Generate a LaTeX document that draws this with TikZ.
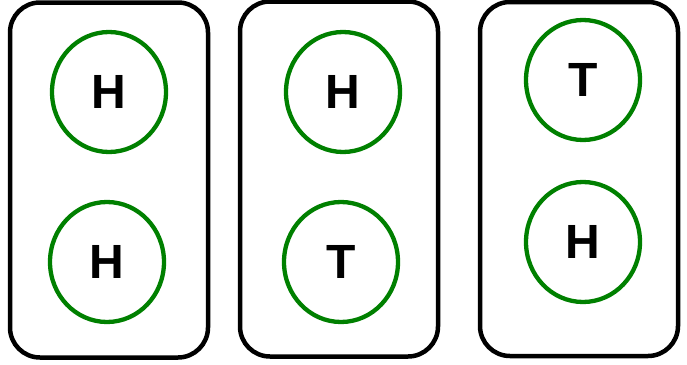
\documentclass[tikz,border=0pt]{standalone}
\usepackage{fontspec}
\setmainfont{Liberation Sans}
\definecolor{coin}{HTML}{008000}
\usetikzlibrary{shapes.geometric,positioning}
\tikzset{
  tray/.style={draw=black,line width=4.5pt,rounded corners=30pt,
    minimum width=198pt,minimum height=355pt,inner sep=0pt},
  coin_node/.style={ellipse,draw=coin,line width=4.3pt,
    minimum width=114pt,minimum height=120pt,inner sep=0pt,
    font=\fontsize{48}{48}\selectfont\bfseries},
}
\begin{document}
\begin{tikzpicture}[x=1pt,y=-1pt]
    \useasboundingbox (0,0) rectangle (687,364);
    % three outcomes
    \node[tray] (t1) at (109,180) {};
    \node[tray] (t2) at (339,179) {};
    \node[tray,minimum height=354pt] (t3) at (579,179) {};
    \node[coin_node] (a1) at (109,92) {H};
    \node[coin_node] (a2) at (107,262) {H};
    \node[coin_node] (b1) at (343,92) {H};
    \node[coin_node] (b2) at (341,262) {T};
    \node[coin_node] (c1) at (583,80) {T};
    \node[coin_node] (c2) at (583,242) {H};
  \end{tikzpicture}
\end{document}
